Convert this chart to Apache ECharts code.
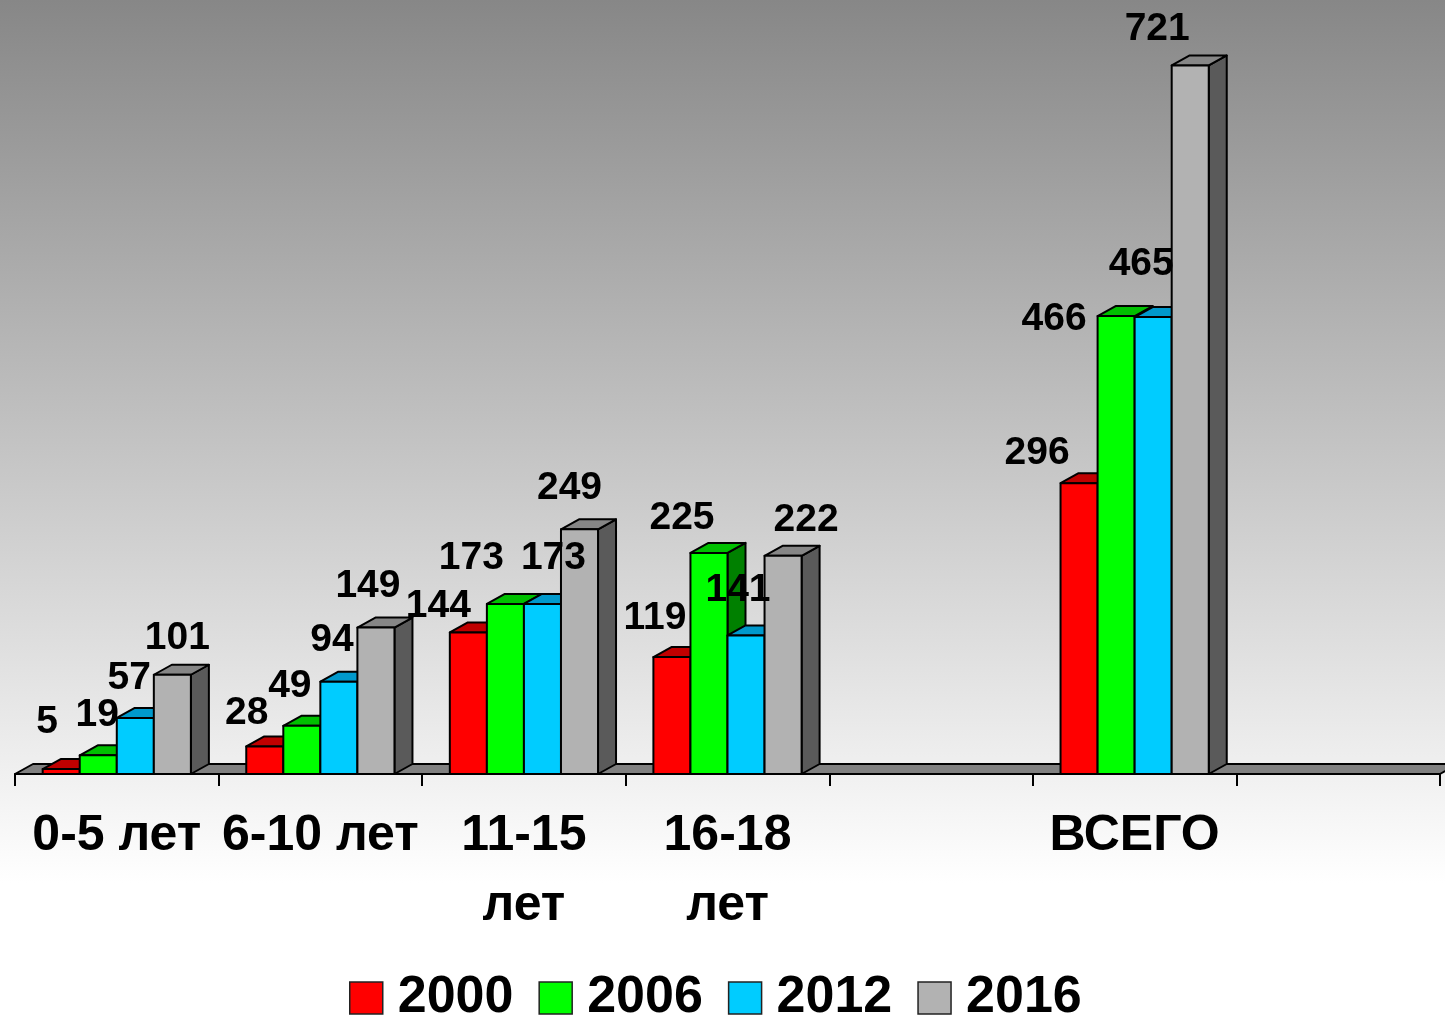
<!DOCTYPE html>
<html>
<head>
<meta charset="utf-8">
<script src="https://cdn.jsdelivr.net/npm/echarts@6/dist/echarts.min.js"></script>
<style>
  html, body { margin: 0; padding: 0; }
  #chart { width: 1445px; height: 1015px; }
</style>
</head>
<body>
<div id="chart"></div>
<script>
const categories = ["0-5 лет", "6-10 лет", "11-15\nлет", "16-18\nлет", "", "ВСЕГО", ""];
const years = ["2000", "2006", "2012", "2016"];
const v2000 = [5, 28, 144, 119, null, 296, null];
const v2006 = [19, 49, 173, 225, null, 466, null];
const v2012 = [57, 94, 173, 141, null, 465, null];
const v2016 = [101, 149, 249, 222, null, 721, null];
const values = [v2000, v2006, v2012, v2016];

// front / top / side colours for each year
const faces = [
  ["#ff0000", "#c00000", "#800000"],
  ["#00ff00", "#00c000", "#008000"],
  ["#00ccff", "#0099cc", "#006699"],
  ["#b2b2b2", "#868686", "#5a5a5a"],
];

// hand placement of value labels, [dx, dy] per year per category
const labelNudge = [
  [[-14, -7], [-18, 7], [-30, 14], [-17, 1], null, [-42, 10], null],
  [[-1, 0], [-12, 0], [-34, -6], [-27, 5], null, [-62, 43], null],
  [[-6, 0], [-7, -1], [11, -6], [-8, -5], null, [-12, -13], null],
  [[5, 3], [-8, -1], [-10, -1], [23, 4], null, [-33, 4], null],
];

const DX = 18, DY = -10;
const stroke = { stroke: "#000", lineWidth: 2, lineJoin: "round" };

const chart = echarts.init(document.getElementById("chart"));

function barItem(si) {
  return function (params, api) {
    const cat = api.value(0);
    const val = api.value(1);
    const band = api.size([1, 0])[0];
    const w = band * 0.182;
    const c = api.coord([cat, val]);
    const base = api.coord([cat, 0]);
    const cx = c[0] + (si - 1.5) * w;
    const xl = cx - w / 2, xr = cx + w / 2;
    const yt = c[1], y0 = base[1];
    const col = faces[si];
    const nudge = labelNudge[si][cat] || [0, 0];
    return {
      type: "group",
      children: [
        {
          type: "polygon",
          shape: { points: [[xr, yt], [xr + DX, yt + DY], [xr + DX, y0 + DY], [xr, y0]] },
          style: Object.assign({ fill: col[2] }, stroke),
        },
        {
          type: "polygon",
          shape: { points: [[xl, yt], [xr, yt], [xr + DX, yt + DY], [xl + DX, yt + DY]] },
          style: Object.assign({ fill: col[1] }, stroke),
        },
        {
          type: "rect",
          shape: { x: xl, y: yt, width: w, height: y0 - yt },
          style: Object.assign({ fill: col[0] }, stroke),
        },
        {
          type: "text",
          z2: 100,
          style: {
            text: String(val),
            x: cx + nudge[0],
            y: yt - 40 + nudge[1],
            align: "center",
            verticalAlign: "middle",
            font: 'bold 39px "Liberation Sans", Arial, sans-serif',
            fill: "#000",
          },
        },
      ],
    };
  };
}

const floorSeries = {
  type: "custom",
  name: "floor",
  silent: true,
  z: 1,
  data: [[0, 0]],
  renderItem: function (params, api) {
    const cs = params.coordSys;
    const y0 = cs.y + cs.height;
    const x0 = cs.x, x1 = cs.x + cs.width;
    return {
      type: "polygon",
      shape: { points: [[x0, y0], [x1, y0], [x1 + DX, y0 + DY], [x0 + DX, y0 + DY]] },
      style: Object.assign({ fill: "#808080" }, stroke),
    };
  },
};

const barSeries = years.map((name, si) => ({
  type: "custom",
  name,
  z: 2,
  itemStyle: { color: faces[si][0] },
  encode: { x: 0, y: 1 },
  data: values[si]
    .map((v, i) => [i, v])
    .filter((d) => d[1] !== null),
  renderItem: barItem(si),
}));

chart.setOption({
  animation: false,
  backgroundColor: {
    type: "linear",
    x: 0, y: 0, x2: 0, y2: 1,
    colorStops: [
      { offset: 0, color: "#878787" },
      { offset: 0.87, color: "#ffffff" },
      { offset: 1, color: "#ffffff" },
    ],
  },
  grid: { left: 15, right: 5, top: 37, bottom: 241 },
  legend: {
    data: years,
    top: 965,
    left: 344,
    icon: "rect",
    itemWidth: 33,
    itemHeight: 32,
    itemGap: 25,
    itemStyle: { borderColor: "#222", borderWidth: 1.5 },
    textStyle: {
      fontFamily: '"Liberation Sans", Arial, sans-serif',
      fontWeight: "bold",
      fontSize: 52,
      lineHeight: 56,
      color: "#000",
      padding: [0, 0, 0, 10],
    },
  },
  xAxis: {
    type: "category",
    data: categories,
    boundaryGap: true,
    axisLine: { show: true, lineStyle: { color: "#000", width: 2 } },
    axisTick: { show: true, length: 12, lineStyle: { color: "#000", width: 2 } },
    axisLabel: {
      interval: 0,
      margin: 27,
      color: "#000",
      fontFamily: '"Liberation Sans", Arial, sans-serif',
      fontWeight: "bold",
      fontSize: 50,
      lineHeight: 70,
    },
    z: 3,
  },
  yAxis: {
    type: "value",
    min: 0,
    max: 750,
    show: false,
    splitLine: { show: false },
  },
  series: [floorSeries].concat(barSeries),
});
</script>
</body>
</html>
